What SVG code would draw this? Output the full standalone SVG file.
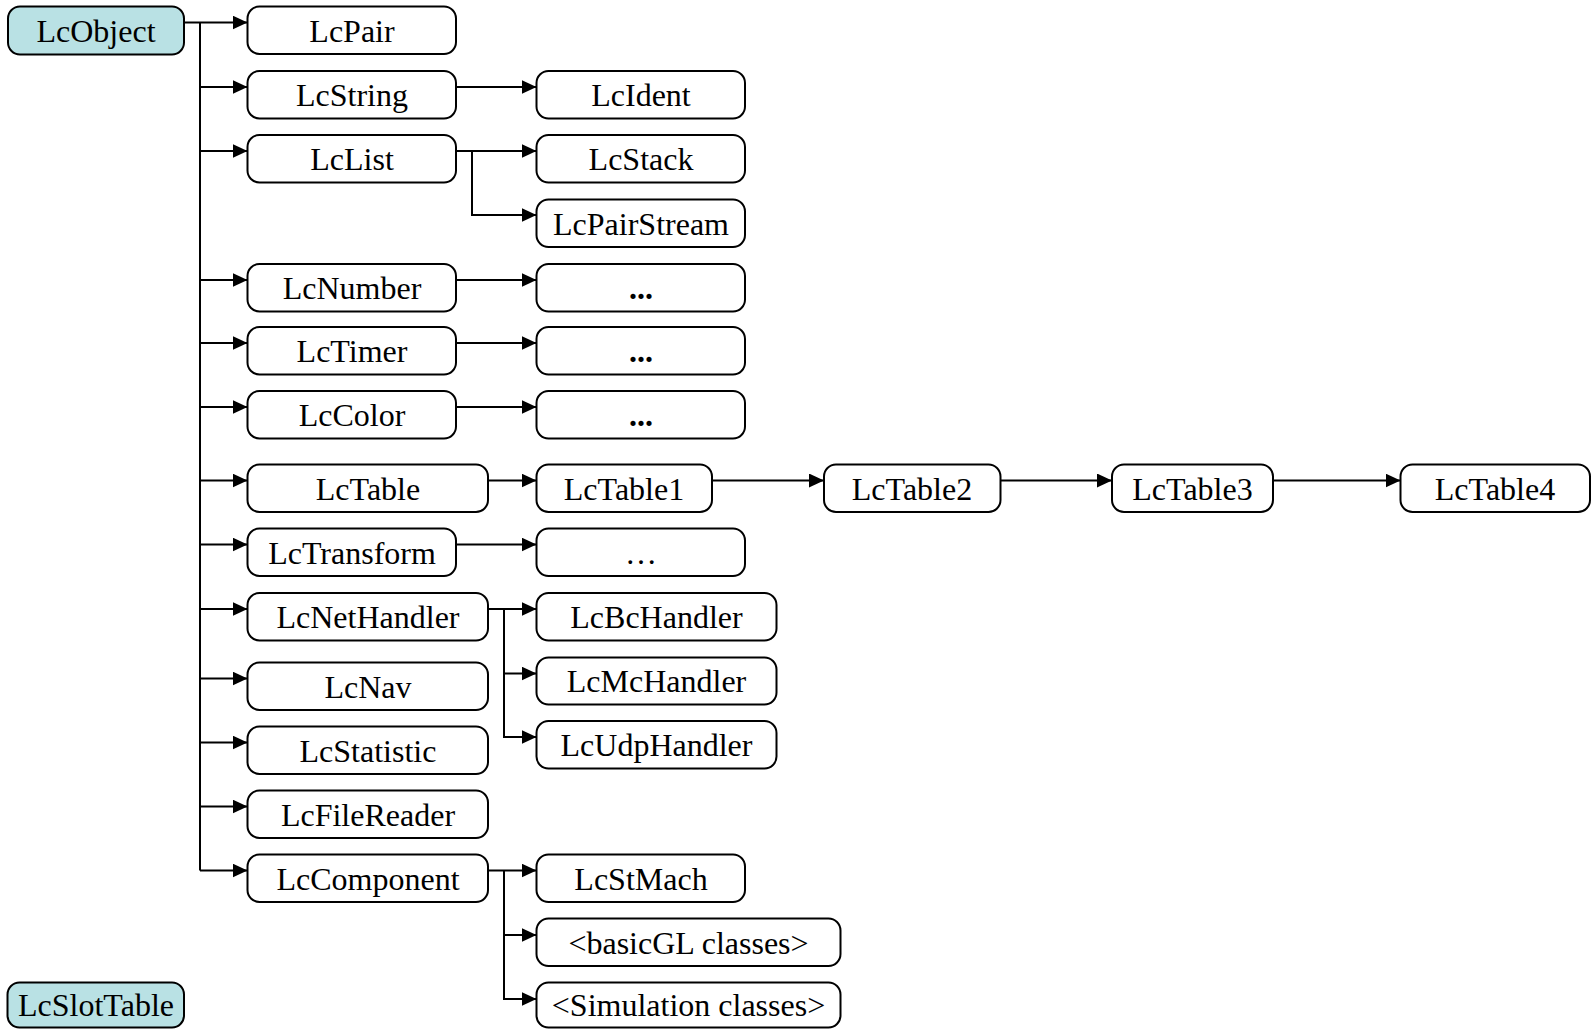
<svg xmlns="http://www.w3.org/2000/svg" width="1591" height="1029" viewBox="0 0 1591 1029">
<style>
.b{fill:#fff;stroke:#000;stroke-width:2}
.r{fill:#b9e1e4;stroke:#000;stroke-width:2}
.t{font-family:"Liberation Serif","Times New Roman",serif;font-size:32px;fill:#000;text-anchor:middle}
.d{font-weight:bold}
.c{fill:none;stroke:#000;stroke-width:2}
</style>
<defs>
<marker id="a" markerUnits="userSpaceOnUse" markerWidth="16" markerHeight="14" refX="15" refY="7" orient="auto">
<path d="M0,0 L15,7 L0,14 Z" fill="#000"/>
</marker>
</defs>
<rect width="1591" height="1029" fill="#fff"/>
<g id="connectors" class="c">
<path d="M184,22.5 H247.5" marker-end="url(#a)"/>
<path d="M200,22.5 V870.5"/>
<path d="M200,87 H247.5" marker-end="url(#a)"/>
<path d="M200,151 H247.5" marker-end="url(#a)"/>
<path d="M200,280 H247.5" marker-end="url(#a)"/>
<path d="M200,343 H247.5" marker-end="url(#a)"/>
<path d="M200,407 H247.5" marker-end="url(#a)"/>
<path d="M200,480.5 H247.5" marker-end="url(#a)"/>
<path d="M200,544.5 H247.5" marker-end="url(#a)"/>
<path d="M200,609 H247.5" marker-end="url(#a)"/>
<path d="M200,678.5 H247.5" marker-end="url(#a)"/>
<path d="M200,742.5 H247.5" marker-end="url(#a)"/>
<path d="M200,806.5 H247.5" marker-end="url(#a)"/>
<path d="M200,870.5 H247.5" marker-end="url(#a)"/>
<path d="M456,87 H536.5" marker-end="url(#a)"/>
<path d="M456,151 H536.5" marker-end="url(#a)"/>
<path d="M472,151 V215 H536.5" marker-end="url(#a)"/>
<path d="M456,280 H536.5" marker-end="url(#a)"/>
<path d="M456,343 H536.5" marker-end="url(#a)"/>
<path d="M456,407 H536.5" marker-end="url(#a)"/>
<path d="M488,480.5 H536.5" marker-end="url(#a)"/>
<path d="M712,480.5 H824" marker-end="url(#a)"/>
<path d="M1000.5,480.5 H1112" marker-end="url(#a)"/>
<path d="M1273,480.5 H1400.5" marker-end="url(#a)"/>
<path d="M456,544.5 H536.5" marker-end="url(#a)"/>
<path d="M488,609 H536.5" marker-end="url(#a)"/>
<path d="M504,609 V673.5 H536.5" marker-end="url(#a)"/>
<path d="M504,673.5 V737 H536.5" marker-end="url(#a)"/>
<path d="M488,870.5 H536.5" marker-end="url(#a)"/>
<path d="M504,870.5 V935 H536.5" marker-end="url(#a)"/>
<path d="M504,935 V999 H536.5" marker-end="url(#a)"/>
</g>
<g id="LcObject"><rect class="r" x="8" y="6.5" width="176" height="48" rx="12"/><text class="t" x="96" y="41.5">LcObject</text></g>
<g id="LcSlotTable"><rect class="r" x="7.5" y="982.5" width="176.5" height="45" rx="12"/><text class="t" x="96" y="1016">LcSlotTable</text></g>
<g id="LcPair"><rect class="b" x="247.5" y="6.5" width="208.5" height="47.5" rx="12"/><text class="t" x="352" y="41.5">LcPair</text></g>
<g id="LcString"><rect class="b" x="247.5" y="71" width="208.5" height="47.5" rx="12"/><text class="t" x="352" y="106">LcString</text></g>
<g id="LcList"><rect class="b" x="247.5" y="135" width="208.5" height="47.5" rx="12"/><text class="t" x="352" y="170">LcList</text></g>
<g id="LcNumber"><rect class="b" x="247.5" y="264" width="208.5" height="47.5" rx="12"/><text class="t" x="352" y="299">LcNumber</text></g>
<g id="LcTimer"><rect class="b" x="247.5" y="327" width="208.5" height="47.5" rx="12"/><text class="t" x="352" y="362">LcTimer</text></g>
<g id="LcColor"><rect class="b" x="247.5" y="391" width="208.5" height="47.5" rx="12"/><text class="t" x="352" y="426">LcColor</text></g>
<g id="LcTable"><rect class="b" x="247.5" y="464.5" width="240.5" height="47.5" rx="12"/><text class="t" x="368" y="499.5">LcTable</text></g>
<g id="LcTransform"><rect class="b" x="247.5" y="528.5" width="208.5" height="47.5" rx="12"/><text class="t" x="352" y="563.5">LcTransform</text></g>
<g id="LcNetHandler"><rect class="b" x="247.5" y="593" width="240.5" height="47.5" rx="12"/><text class="t" x="368" y="628">LcNetHandler</text></g>
<g id="LcNav"><rect class="b" x="247.5" y="662.5" width="240.5" height="47.5" rx="12"/><text class="t" x="368" y="697.5">LcNav</text></g>
<g id="LcStatistic"><rect class="b" x="247.5" y="726.5" width="240.5" height="47.5" rx="12"/><text class="t" x="368" y="761.5">LcStatistic</text></g>
<g id="LcFileReader"><rect class="b" x="247.5" y="790.5" width="240.5" height="47.5" rx="12"/><text class="t" x="368" y="825.5">LcFileReader</text></g>
<g id="LcComponent"><rect class="b" x="247.5" y="854.5" width="240.5" height="47.5" rx="12"/><text class="t" x="368" y="889.5">LcComponent</text></g>
<g id="LcIdent"><rect class="b" x="536.5" y="71" width="208.5" height="47.5" rx="12"/><text class="t" x="641" y="106">LcIdent</text></g>
<g id="LcStack"><rect class="b" x="536.5" y="135" width="208.5" height="47.5" rx="12"/><text class="t" x="641" y="170">LcStack</text></g>
<g id="LcPairStream"><rect class="b" x="536.5" y="199.5" width="208.5" height="47.5" rx="12"/><text class="t" x="641" y="234.5">LcPairStream</text></g>
<g id="NumberSub"><rect class="b" x="536.5" y="264" width="208.5" height="47.5" rx="12"/><text class="t d" x="641" y="299">...</text></g>
<g id="TimerSub"><rect class="b" x="536.5" y="327" width="208.5" height="47.5" rx="12"/><text class="t d" x="641" y="362">...</text></g>
<g id="ColorSub"><rect class="b" x="536.5" y="391" width="208.5" height="47.5" rx="12"/><text class="t d" x="641" y="426">...</text></g>
<g id="LcTable1"><rect class="b" x="536.5" y="464.5" width="175.5" height="47.5" rx="12"/><text class="t" x="624" y="499.5">LcTable1</text></g>
<g id="LcTable2"><rect class="b" x="824" y="464.5" width="176.5" height="47.5" rx="12"/><text class="t" x="912" y="499.5">LcTable2</text></g>
<g id="LcTable3"><rect class="b" x="1112" y="464.5" width="161" height="47.5" rx="12"/><text class="t" x="1192.5" y="499.5">LcTable3</text></g>
<g id="LcTable4"><rect class="b" x="1400.5" y="464.5" width="189.5" height="47.5" rx="12"/><text class="t" x="1495" y="499.5">LcTable4</text></g>
<g id="TransformSub"><rect class="b" x="536.5" y="528.5" width="208.5" height="47.5" rx="12"/><text class="t" x="641" y="563.5">…</text></g>
<g id="LcBcHandler"><rect class="b" x="536.5" y="593" width="240" height="47.5" rx="12"/><text class="t" x="656.5" y="628">LcBcHandler</text></g>
<g id="LcMcHandler"><rect class="b" x="536.5" y="657.5" width="240" height="47" rx="12"/><text class="t" x="656.5" y="692">LcMcHandler</text></g>
<g id="LcUdpHandler"><rect class="b" x="536.5" y="721" width="240" height="47.5" rx="12"/><text class="t" x="656.5" y="756">LcUdpHandler</text></g>
<g id="LcStMach"><rect class="b" x="536.5" y="854.5" width="208.5" height="47.5" rx="12"/><text class="t" x="641" y="889.5">LcStMach</text></g>
<g id="basicGL"><rect class="b" x="536.5" y="918.5" width="304" height="47.5" rx="12"/><text class="t" x="688.5" y="953.5">&lt;basicGL classes&gt;</text></g>
<g id="Simulation"><rect class="b" x="536.5" y="982.5" width="304" height="45" rx="12"/><text class="t" x="688.5" y="1016">&lt;Simulation classes&gt;</text></g>
</svg>
